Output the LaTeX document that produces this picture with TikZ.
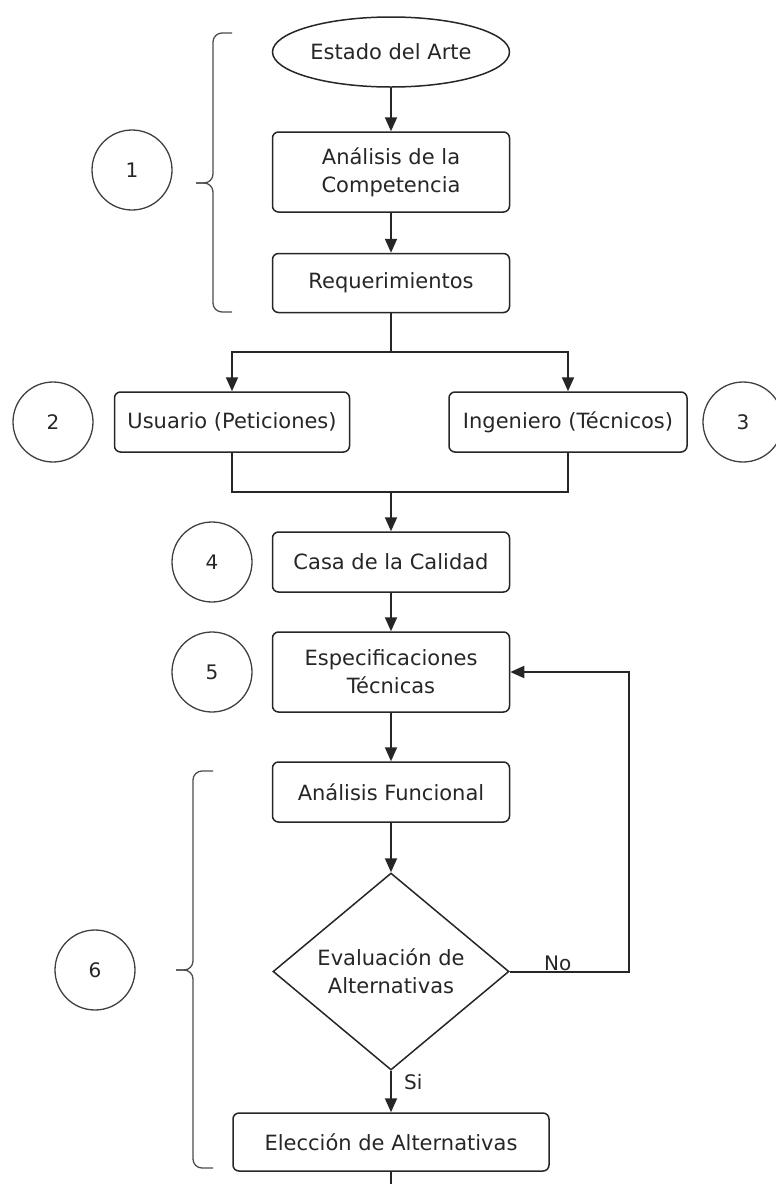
\documentclass[tikz,border=0pt]{standalone}
\usepackage{fontspec}
\setmainfont{DejaVu Sans}
\usetikzlibrary{arrows.meta,shapes.geometric}

\tikzset{
  stepbox/.style={draw=black!85, line width=1.5pt, rounded corners=6pt,
    minimum width=237pt, minimum height=60pt, inner sep=0pt,
    align=center, text=black!85, font=\fontsize{21}{28}\selectfont},
  startnode/.style={ellipse, draw=black!85, line width=1.5pt,
    minimum width=237pt, minimum height=70pt, inner sep=0pt,
    text=black!85, font=\fontsize{21}{28}\selectfont},
  decision/.style={diamond, draw=black!85, line width=1.5pt,
    minimum width=236pt, minimum height=197pt, inner sep=0pt, aspect=1.2,
    align=center, text=black!85, font=\fontsize{21}{28}\selectfont},
  phase/.style={circle, draw=black!75, line width=1.3pt,
    minimum size=80pt, inner sep=0pt, text=black!85,
    font=\fontsize{20}{22}\selectfont},
  flow/.style={line width=2pt, draw=black!85},
  arr/.style={flow, -{Triangle[length=14pt, width=12pt]}},
  brace/.style={line width=1.3pt, draw=black!70},
  tag/.style={inner sep=1pt, text=black!85, font=\fontsize{20}{22}\selectfont}
}

\begin{document}
\begin{tikzpicture}[x=1pt, y=-1pt]
  \useasboundingbox (0,0) rectangle (776,1184);

  % main column
  \node[startnode] (arte) at (391,52) {Estado del Arte};
  \node[stepbox, minimum height=80pt] (compet) at (391,172) {Análisis de la\\Competencia};
  \node[stepbox, minimum height=59pt] (req) at (391,283) {Requerimientos};

  % two sources of requirements
  \node[stepbox, minimum width=235pt] (usuario) at (232,422) {Usuario (Peticiones)};
  \node[stepbox, minimum width=238pt] (ing) at (568,422) {Ingeniero (Técnicos)};

  \node[stepbox] (casa) at (391,562) {Casa de la Calidad};
  \node[stepbox, minimum height=80pt] (espec) at (391,672) {Especificaciones\\Técnicas};
  \node[stepbox] (func) at (391,792) {Análisis Funcional};
  \node[decision] (eval) at (391,971.5) {Evaluación de\\Alternativas};
  \node[stepbox, minimum width=316pt, minimum height=58pt] (elec) at (391,1142) {Elección de Alternativas};

  % phase markers
  \node[phase] (p1) at (132,170) {1};
  \node[phase] (p2) at (53,422) {2};
  \node[phase] (p3) at (743,422) {3};
  \node[phase] (p4) at (212,562) {4};
  \node[phase] (p5) at (212,672) {5};
  \node[phase] (p6) at (95,970) {6};

  % braces grouping phases 1 and 6
  \draw[brace, rounded corners=9pt] (232,33) -- (213,33) -- (213,183) -- (196,183);
  \draw[brace, rounded corners=9pt] (196,183) -- (213,183) -- (213,312) -- (232,312);
  \draw[brace, rounded corners=9pt] (213,771) -- (193,771) -- (193,970) -- (176,970);
  \draw[brace, rounded corners=9pt] (176,970) -- (193,970) -- (193,1168) -- (213,1168);

  % connectors
  \coordinate (split) at (391,352);
  \coordinate (join) at (391,492);
  \coordinate (loop) at (629,971.5);
  \coordinate (out) at (391,1190);

  \draw[arr] (arte) -- (compet);
  \draw[arr] (compet) -- (req);
  \draw[flow] (req) -- (split);
  \draw[arr] (split) -| (usuario);
  \draw[arr] (split) -| (ing);
  \draw[flow] (usuario) |- (join);
  \draw[flow] (ing) |- (join);
  \draw[arr] (join) -- (casa);
  \draw[arr] (casa) -- (espec);
  \draw[arr] (espec) -- (func);
  \draw[arr] (func) -- (eval);
  \draw[arr] (eval.east) -- (loop) |- (espec.east);
  \draw[arr] (eval.south) -- (elec);
  \draw[flow] (elec) -- (out);

  % branch labels
  \node[tag, anchor=west] (no) at (543,963) {No};
  \node[tag, anchor=west] (si) at (403,1082) {Si};
\end{tikzpicture}
\end{document}
